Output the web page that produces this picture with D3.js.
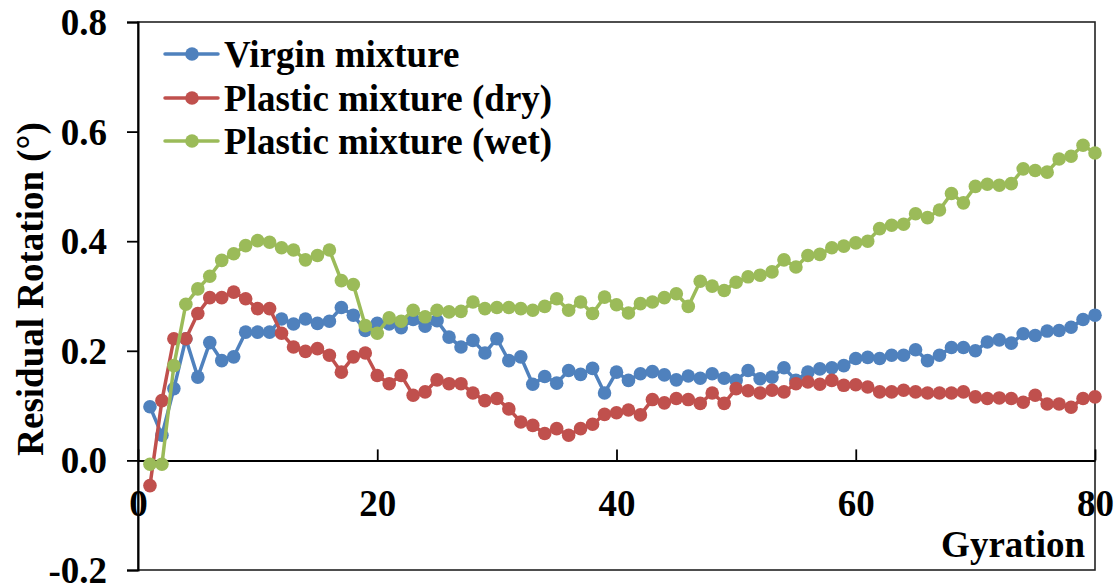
<!DOCTYPE html>
<html>
<head>
<meta charset="utf-8">
<script src="https://cdn.jsdelivr.net/npm/d3@7"></script>
<style>
  html, body { margin: 0; padding: 0; background: #fff; }
  svg { display: block; font-family: "Liberation Serif", "Times New Roman", serif; font-weight: bold; }
</style>
</head>
<body>
<svg id="chart" width="1115" height="585"></svg>
<script>
// Gyration number for each reading
const gyrations = d3.range(1, 81);

// Residual rotation (degrees) per gyration
const virgin = [
  0.098, 0.046, 0.131, 0.222, 0.152, 0.215, 0.182, 0.189, 0.234, 0.234,
  0.234, 0.258, 0.249, 0.258, 0.250, 0.254, 0.279, 0.265, 0.237, 0.250,
  0.249, 0.242, 0.257, 0.245, 0.255, 0.225, 0.207, 0.219, 0.196, 0.222,
  0.182, 0.189, 0.139, 0.153, 0.141, 0.164, 0.157, 0.168, 0.123, 0.161,
  0.146, 0.158, 0.162, 0.156, 0.147, 0.154, 0.150, 0.158, 0.150, 0.146,
  0.164, 0.149, 0.152, 0.169, 0.146, 0.161, 0.167, 0.169, 0.173, 0.186,
  0.188, 0.186, 0.192, 0.192, 0.202, 0.182, 0.192, 0.206, 0.206, 0.200,
  0.216, 0.220, 0.214, 0.231, 0.228, 0.236, 0.237, 0.243, 0.257, 0.265
];
const plasticDry = [
  -0.046, 0.109, 0.222, 0.222, 0.268, 0.297, 0.297, 0.307, 0.295, 0.277,
  0.277, 0.232, 0.207, 0.199, 0.204, 0.192, 0.161, 0.189, 0.196, 0.155,
  0.140, 0.155, 0.119, 0.125, 0.147, 0.140, 0.140, 0.123, 0.109, 0.113,
  0.094, 0.070, 0.064, 0.049, 0.058, 0.046, 0.058, 0.066, 0.084, 0.087,
  0.092, 0.083, 0.111, 0.105, 0.113, 0.111, 0.104, 0.123, 0.104, 0.131,
  0.127, 0.123, 0.128, 0.125, 0.140, 0.143, 0.139, 0.146, 0.137, 0.138,
  0.134, 0.125, 0.125, 0.128, 0.125, 0.123, 0.123, 0.123, 0.125, 0.116,
  0.113, 0.114, 0.113, 0.106, 0.119, 0.103, 0.103, 0.097, 0.113, 0.116
];
const plasticWet = [
  -0.007, -0.007, 0.173, 0.285, 0.313, 0.336, 0.365, 0.377, 0.392, 0.401,
  0.398, 0.388, 0.384, 0.366, 0.374, 0.384, 0.328, 0.321, 0.246, 0.232,
  0.260, 0.254, 0.274, 0.262, 0.274, 0.271, 0.272, 0.289, 0.277, 0.279,
  0.279, 0.277, 0.274, 0.281, 0.295, 0.274, 0.289, 0.268, 0.298, 0.284,
  0.269, 0.286, 0.289, 0.297, 0.304, 0.281, 0.327, 0.318, 0.310, 0.325,
  0.335, 0.338, 0.344, 0.366, 0.353, 0.374, 0.376, 0.388, 0.391, 0.397,
  0.400, 0.423, 0.429, 0.431, 0.450, 0.443, 0.457, 0.487, 0.470, 0.500,
  0.504, 0.502, 0.505, 0.532, 0.529, 0.526, 0.550, 0.555, 0.575, 0.561
];

const seriesNames = ["Virgin mixture", "Plastic mixture (dry)", "Plastic mixture (wet)"];
const seriesValues = [virgin, plasticDry, plasticWet];
const seriesColors = ["#4F81BD", "#C0504D", "#9BBB59"];

const xTicks = [0, 20, 40, 60, 80];
const yTicks = [-0.2, 0.0, 0.2, 0.4, 0.6, 0.8];

const svg = d3.select("#chart");
const plotLeft = 138, plotRight = 1095, plotTop = 22, plotBottom = 570;
const fontSize = 37;

const x = d3.scaleLinear().domain([0, 80]).range([plotLeft, plotRight]);
const y = d3.scaleLinear().domain([-0.2, 0.8]).range([plotBottom, plotTop]);

// Plot frame
svg.append("rect")
  .attr("x", plotLeft).attr("y", plotTop)
  .attr("width", plotRight - plotLeft).attr("height", plotBottom - plotTop)
  .attr("fill", "none").attr("stroke", "#222").attr("stroke-width", 1.6);

// Y axis: ticks pointing outward, plain hyphen for negatives
const yAxis = svg.append("g")
  .attr("transform", `translate(${plotLeft},0)`)
  .call(d3.axisLeft(y).tickValues(yTicks).tickFormat(d => d.toFixed(1)).tickSize(11).tickPadding(20));
yAxis.select(".domain").attr("stroke", "#000").attr("stroke-width", 2);
yAxis.selectAll(".tick line").attr("stroke", "#000").attr("stroke-width", 1.8);
yAxis.selectAll(".tick text")
  .attr("font-size", fontSize).attr("font-weight", "bold")
  .attr("font-family", "Liberation Serif, Times New Roman, serif")
  .attr("fill", "#000")
  .attr("dy", "0.34em");

// X axis along y = 0, ticks pointing up into the plot
const xAxis = svg.append("g")
  .attr("transform", `translate(0,${y(0)})`)
  .call(d3.axisBottom(x).tickValues(xTicks).tickSize(0).tickPadding(0));
xAxis.select(".domain").attr("stroke", "#000").attr("stroke-width", 2);
xAxis.selectAll(".tick line").remove();
xAxis.selectAll(".tick").append("line")
  .attr("y1", 0).attr("y2", -11)
  .attr("stroke", "#000").attr("stroke-width", 1.8);
xAxis.selectAll(".tick text")
  .attr("font-size", fontSize).attr("font-weight", "bold")
  .attr("font-family", "Liberation Serif, Times New Roman, serif")
  .attr("fill", "#000")
  .attr("y", 56).attr("dy", 0);

// Axis titles
svg.append("text")
  .attr("x", 1085).attr("y", 557)
  .attr("text-anchor", "end")
  .attr("font-size", fontSize)
  .text("Gyration");

svg.append("text")
  .attr("transform", "translate(43,289) rotate(-90)")
  .attr("text-anchor", "middle")
  .attr("font-size", fontSize)
  .text("Residual Rotation (°)");

// Series: lines with circular markers
const line = d3.line()
  .x((d, i) => x(gyrations[i]))
  .y(d => y(d));

seriesValues.forEach((vals, k) => {
  const g = svg.append("g");
  g.append("path")
    .datum(vals)
    .attr("d", line)
    .attr("fill", "none")
    .attr("stroke", seriesColors[k])
    .attr("stroke-width", 3.5)
    .attr("stroke-linejoin", "round");
  g.selectAll("circle")
    .data(vals)
    .join("circle")
    .attr("cx", (d, i) => x(gyrations[i]))
    .attr("cy", d => y(d))
    .attr("r", 6.8)
    .attr("fill", seriesColors[k]);
});

// Legend
const legendY = [54, 98, 141];
seriesNames.forEach((name, k) => {
  const g = svg.append("g").attr("transform", `translate(0,${legendY[k]})`);
  g.append("line")
    .attr("x1", 165).attr("x2", 218)
    .attr("stroke", seriesColors[k]).attr("stroke-width", 3.5)
    .attr("stroke-linecap", "round");
  g.append("circle")
    .attr("cx", 192).attr("cy", 0).attr("r", 6.8)
    .attr("fill", seriesColors[k]);
  g.append("text")
    .attr("x", 224).attr("y", 0).attr("dy", "0.34em")
    .attr("font-size", fontSize)
    .text(name);
});
</script>
</body>
</html>
